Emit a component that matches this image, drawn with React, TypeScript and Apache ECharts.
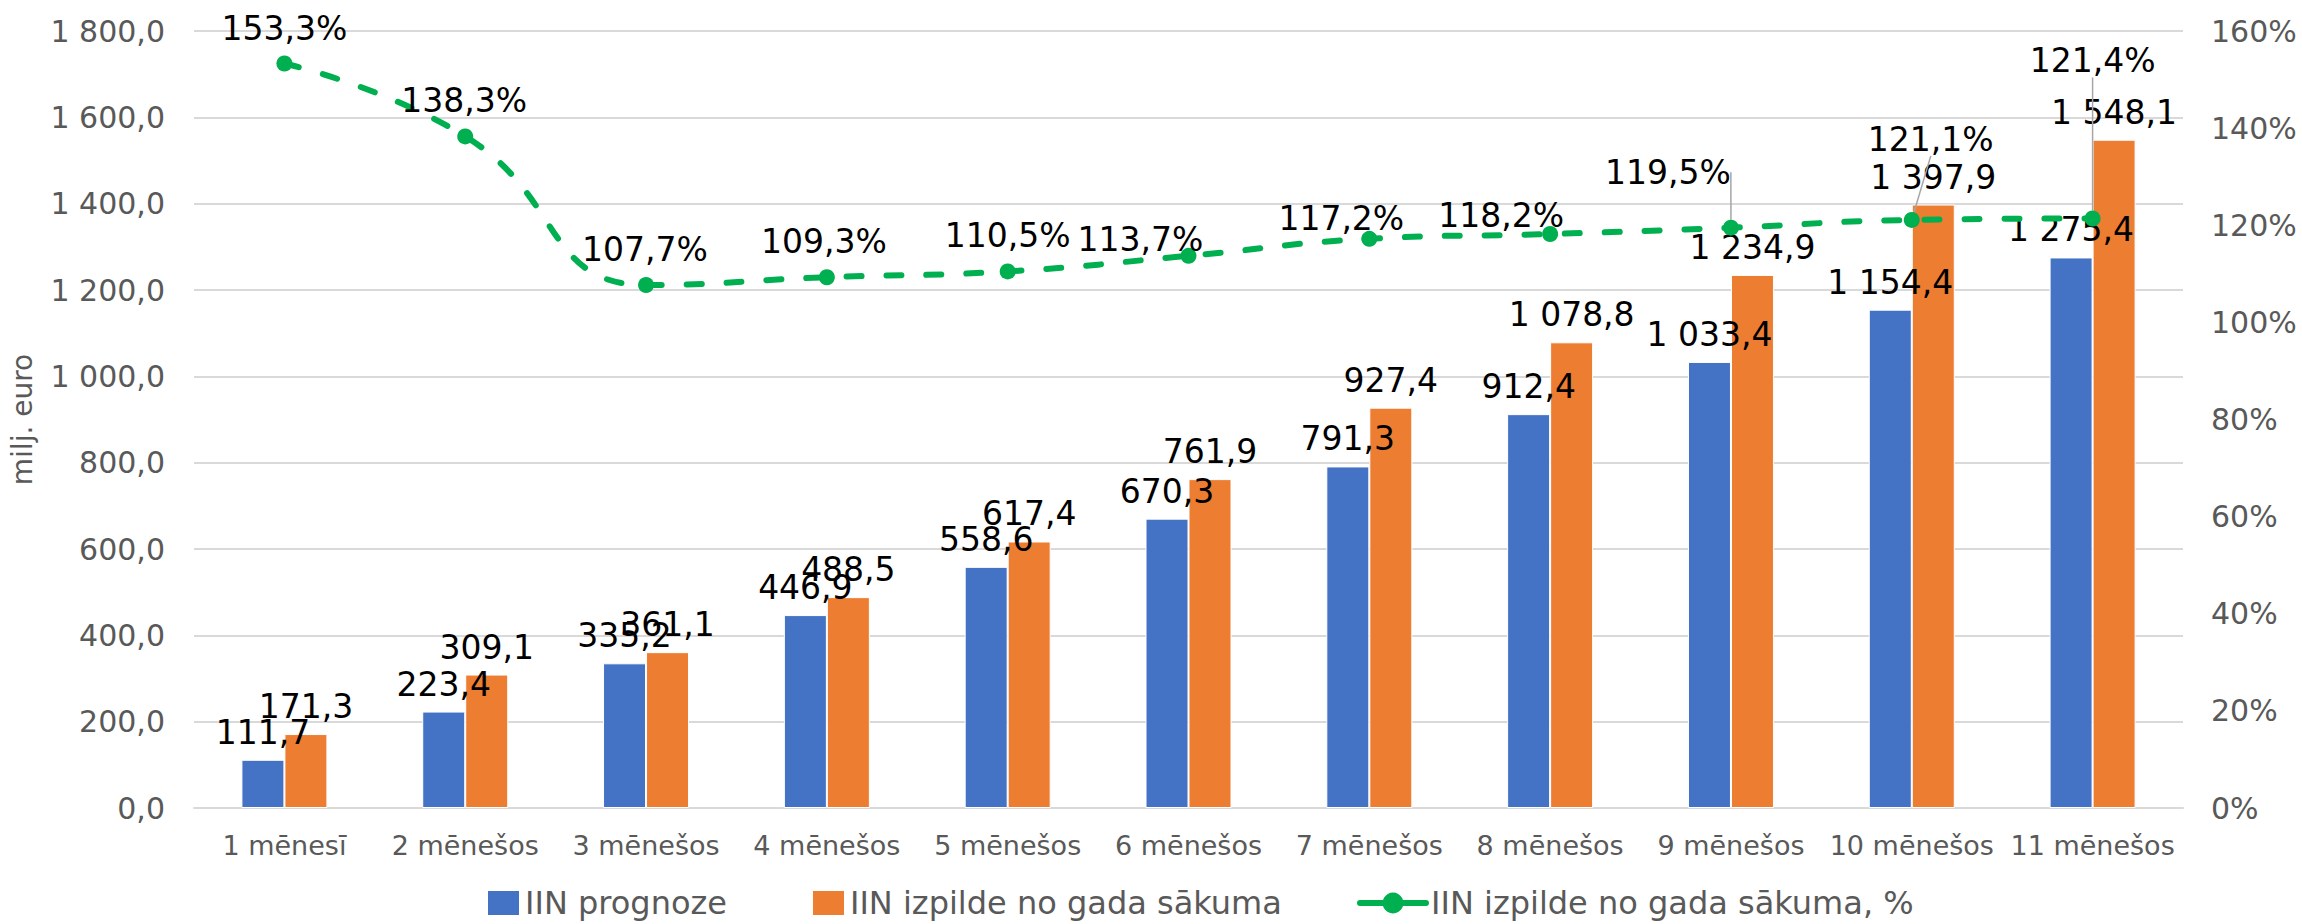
import React, { useEffect, useRef } from "react";
import * as echarts from "echarts";

const categories = [
  "1 mēnesī", "2 mēnešos", "3 mēnešos", "4 mēnešos", "5 mēnešos", "6 mēnešos",
  "7 mēnešos", "8 mēnešos", "9 mēnešos", "10 mēnešos", "11 mēnešos",
];
const forecast = [111.7, 223.4, 335.2, 446.9, 558.6, 670.3, 791.3, 912.4, 1033.4, 1154.4, 1275.4];
const actual = [171.3, 309.1, 361.1, 488.5, 617.4, 761.9, 927.4, 1078.8, 1234.9, 1397.9, 1548.1];
const percent = [153.3, 138.3, 107.7, 109.3, 110.5, 113.7, 117.2, 118.2, 119.5, 121.1, 121.4];

const seriesNames = ["IIN prognoze", "IIN izpilde no gada sākuma", "IIN izpilde no gada sākuma, %"];
const yAxisName = "milj. euro";

// label shifts (styling) for the % labels [dx, dy] in px
const pctLabelShift: [number, number][] = [
  [0, 0], [-1, 0], [-1, 0], [-3, 0], [0, 0], [-48, 19], [-28, 15], [-49, 17], [-63, -20], [19, -45], [0, -122],
];
const pctLeader = [false, false, false, false, false, false, false, false, true, true, true];

const FONT = "DejaVu Sans, Verdana, sans-serif";
const AXIS_GRAY = "#595959";

function fmtNum(v: number): string {
  const [i, d] = v.toFixed(1).split(".");
  return i.replace(/\B(?=(\d{3})+(?!\d))/g, " ") + "," + d;
}

export default function App() {
  const ref = useRef<HTMLDivElement>(null);
  useEffect(() => {
    if (!ref.current) return;
    const chart = echarts.init(ref.current, undefined, { renderer: "svg" });
    const barLabel = {
      show: true,
      position: "top" as const,
      distance: 11,
      color: "#000",
      fontSize: 33,
      fontFamily: FONT,
      formatter: (p: any) => fmtNum(p.value),
    };
    const legendText = { fontSize: 32, color: AXIS_GRAY, fontFamily: FONT };
    chart.setOption({
      animation: false,
      backgroundColor: "#fff",
      textStyle: { fontFamily: FONT },
      grid: { left: 187, right: 119, top: 31, bottom: 116 },
      legend: [
        {
          data: [seriesNames[0], seriesNames[1]],
          left: 481,
          top: 882,
          icon: "rect",
          itemWidth: 33,
          itemHeight: 26,
          itemGap: 84,
          textStyle: legendText,
        },
        {
          data: [seriesNames[2]],
          left: 1352,
          top: 882,
          itemWidth: 66,
          itemHeight: 26,
          lineStyle: { type: "solid", width: 6 },
          textStyle: legendText,
        },
      ],
      xAxis: {
        type: "category",
        data: categories,
        axisTick: { show: false },
        axisLine: { lineStyle: { color: "#D9D9D9", width: 2 } },
        axisLabel: { color: AXIS_GRAY, fontSize: 27, margin: 24, interval: 0, fontFamily: FONT },
      },
      yAxis: [
        {
          type: "value",
          min: 0,
          max: 1800,
          interval: 200,
          name: yAxisName,
          nameLocation: "middle",
          nameRotate: 90,
          nameGap: 158,
          nameTextStyle: { color: AXIS_GRAY, fontSize: 28, fontFamily: FONT },
          axisLabel: {
            color: AXIS_GRAY,
            fontSize: 30,
            margin: 29,
            fontFamily: FONT,
            formatter: (v: number) => fmtNum(v),
          },
          splitLine: { lineStyle: { color: "#D9D9D9", width: 2 } },
        },
        {
          type: "value",
          min: 0,
          max: 160,
          interval: 20,
          axisLabel: {
            color: AXIS_GRAY,
            fontSize: 30,
            margin: 28,
            fontFamily: FONT,
            formatter: (v: number) => v + "%",
          },
          splitLine: { show: false },
        },
      ],
      series: [
        {
          name: seriesNames[0],
          type: "bar",
          data: forecast,
          barWidth: 43,
          barGap: "0%",
          itemStyle: { color: "#4472C4", borderColor: "#fff", borderWidth: 1 },
          label: barLabel,
        },
        {
          name: seriesNames[1],
          type: "bar",
          data: actual,
          barWidth: 43,
          itemStyle: { color: "#ED7D31", borderColor: "#fff", borderWidth: 1 },
          label: barLabel,
        },
        {
          name: seriesNames[2],
          type: "line",
          yAxisIndex: 1,
          smooth: 0.5,
          symbol: "circle",
          symbolSize: 16,
          z: 5,
          lineStyle: { color: "#00B050", width: 6, type: [15, 25], cap: "round" },
          itemStyle: { color: "#00B050" },
          labelLine: { show: false },
          label: {
            show: true,
            position: "top",
            distance: 11,
            color: "#000",
            fontSize: 33,
            fontFamily: FONT,
            formatter: (p: any) => p.value.toFixed(1).replace(".", ",") + "%",
          },
          labelLayout: (params: any) => ({
            dx: pctLabelShift[params.dataIndex][0],
            dy: pctLabelShift[params.dataIndex][1],
          }),
          data: percent.map((v, i) => ({
            value: v,
            labelLine: pctLeader[i]
              ? { show: true, lineStyle: { color: "#A6A6A6", width: 1.5 } }
              : { show: false },
          })),
        },
      ],
    });
    return () => chart.dispose();
  }, []);
  return (
    <div
      ref={ref}
      style={{ position: "absolute", left: 0, top: 0, width: 2302, height: 924 }}
    />
  );
}
